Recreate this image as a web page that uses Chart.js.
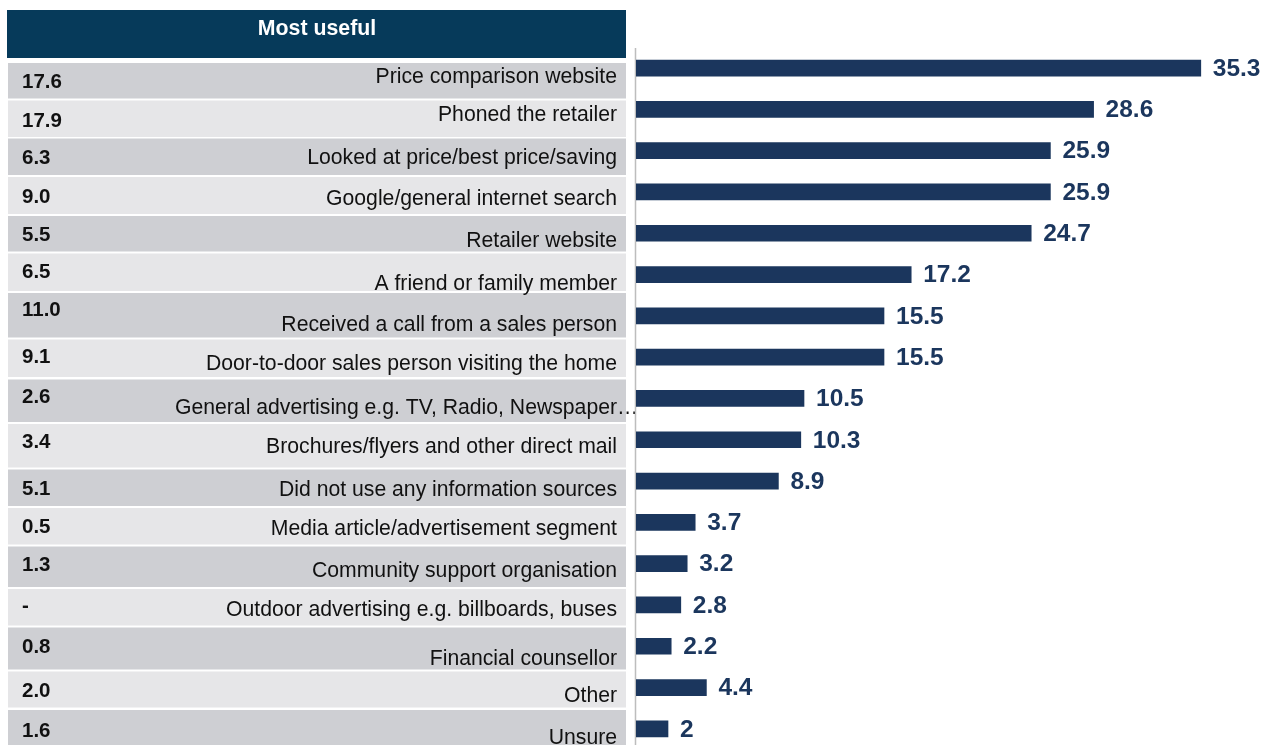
<!DOCTYPE html>
<html>
<head>
<meta charset="utf-8">
<script src="https://cdn.jsdelivr.net/npm/chart.js@4/dist/chart.umd.min.js"></script>
<style>
  html, body { margin: 0; padding: 0; background: #ffffff; overflow: hidden; }
  #wrap { width: 1275px; height: 745px; overflow: hidden; }
  canvas { display: block; }
</style>
</head>
<body>
<div id="wrap"><canvas id="chart" width="1275" height="750"></canvas></div>
<script>
// Information sources used (per cent), sorted by share
const categories = [
  'Price comparison website',
  'Phoned the retailer',
  'Looked at price/best price/saving',
  'Google/general internet search',
  'Retailer website',
  'A friend or family member',
  'Received a call from a sales person',
  'Door-to-door sales person visiting the home',
  'General advertising e.g. TV, Radio, Newspaper…',
  'Brochures/flyers and other direct mail',
  'Did not use any information sources',
  'Media article/advertisement segment',
  'Community support organisation',
  'Outdoor advertising e.g. billboards, buses',
  'Financial counsellor',
  'Other',
  'Unsure'
];

// Share that used each source
const usedValues = [35.3, 28.6, 25.9, 25.9, 24.7, 17.2, 15.5, 15.5, 10.5, 10.3, 8.9, 3.7, 3.2, 2.8, 2.2, 4.4, 2];

// Share naming each source as the most useful (null = no response)
const mostUseful = [17.6, 17.9, 6.3, 9.0, 5.5, 6.5, 11.0, 9.1, 2.6, 3.4, 5.1, 0.5, 1.3, null, 0.8, 2.0, 1.6];

const tableTitle = 'Most useful';

// Table row geometry: [top, bottom, number centre y, label centre y]
const rowBands = [
  [63, 98.5, 82, 77],
  [100.5, 137, 121, 115],
  [138.5, 175, 158, 158],
  [177, 214, 197, 199],
  [216, 251.5, 235, 241.5],
  [253.5, 291, 272.5, 284.5],
  [293, 337.5, 310, 325],
  [339.5, 377, 357, 364.5],
  [379.5, 422, 397, 408.5],
  [424, 467.5, 442, 447.5],
  [469.5, 506, 489, 490],
  [508, 544.5, 527, 529],
  [546.5, 587, 565, 571],
  [589, 625.5, 606, 610],
  [627.5, 669.5, 647, 659],
  [671.5, 707.5, 691, 696],
  [710, 752, 731, 738]
];

const NAVY = '#1b365d';
const HEADER = '#063a5a';
const ROW_DARK = '#cecfd3';
const ROW_LIGHT = '#e6e6e8';
const FONT = '"Liberation Sans", Arial, Helvetica, sans-serif';

// Left-hand table: header band, shaded rows, "most useful" figures and source names
const tablePlugin = {
  id: 'sourceTable',
  beforeDraw(chart) {
    const ctx = chart.ctx;
    ctx.save();
    ctx.fillStyle = HEADER;
    ctx.fillRect(7, 10, 619, 48);
    ctx.fillStyle = '#ffffff';
    ctx.font = 'bold 21.3px ' + FONT;
    ctx.textAlign = 'center';
    ctx.textBaseline = 'middle';
    ctx.fillText(tableTitle, 317, 29);

    rowBands.forEach((b, i) => {
      ctx.fillStyle = i % 2 === 0 ? ROW_DARK : ROW_LIGHT;
      ctx.fillRect(8, b[0], 618, b[1] - b[0]);
    });
    rowBands.forEach((b, i) => {
      const v = mostUseful[i];
      ctx.fillStyle = '#111111';
      ctx.font = 'bold 20.5px ' + FONT;
      ctx.textAlign = 'left';
      ctx.textBaseline = 'middle';
      ctx.fillText(v === null ? '-' : v.toFixed(1), 22, b[2]);
      ctx.font = '21.2px ' + FONT;
      ctx.textAlign = 'right';
      // a truncated name lets its ellipsis run past the cell edge
      const label = categories[i];
      const spill = label.endsWith('…') ? ctx.measureText('…').width : 0;
      ctx.fillText(label, 617 + spill, b[3]);
    });

    // vertical baseline of the bar panel
    const x0 = chart.scales.x.getPixelForValue(0);
    ctx.strokeStyle = '#bdbdbd';
    ctx.lineWidth = 1.5;
    ctx.beginPath();
    ctx.moveTo(x0 - 0.5, 48);
    ctx.lineTo(x0 - 0.5, chart.height);
    ctx.stroke();
    ctx.restore();
  }
};

// Value labels at the end of each bar
const valueLabels = {
  id: 'valueLabels',
  afterDatasetsDraw(chart) {
    const ctx = chart.ctx;
    const meta = chart.getDatasetMeta(0);
    ctx.save();
    ctx.fillStyle = NAVY;
    ctx.font = 'bold 24.5px ' + FONT;
    ctx.textAlign = 'left';
    ctx.textBaseline = 'middle';
    meta.data.forEach((bar, i) => {
      ctx.fillText(String(usedValues[i]), bar.x + 12, bar.y + 1);
    });
    ctx.restore();
  }
};

new Chart(document.getElementById('chart'), {
  type: 'bar',
  data: {
    labels: categories,
    datasets: [{
      data: usedValues,
      backgroundColor: NAVY,
      borderWidth: 0,
      barThickness: 16
    }]
  },
  options: {
    indexAxis: 'y',
    responsive: false,
    animation: false,
    devicePixelRatio: 1,
    layout: { padding: { left: 636, right: 31, top: 47.4, bottom: 0.5 } },
    plugins: { legend: { display: false }, tooltip: { enabled: false } },
    scales: {
      x: { display: false, min: 0, max: 38 },
      y: { display: false }
    }
  },
  plugins: [tablePlugin, valueLabels]
});
</script>
</body>
</html>
